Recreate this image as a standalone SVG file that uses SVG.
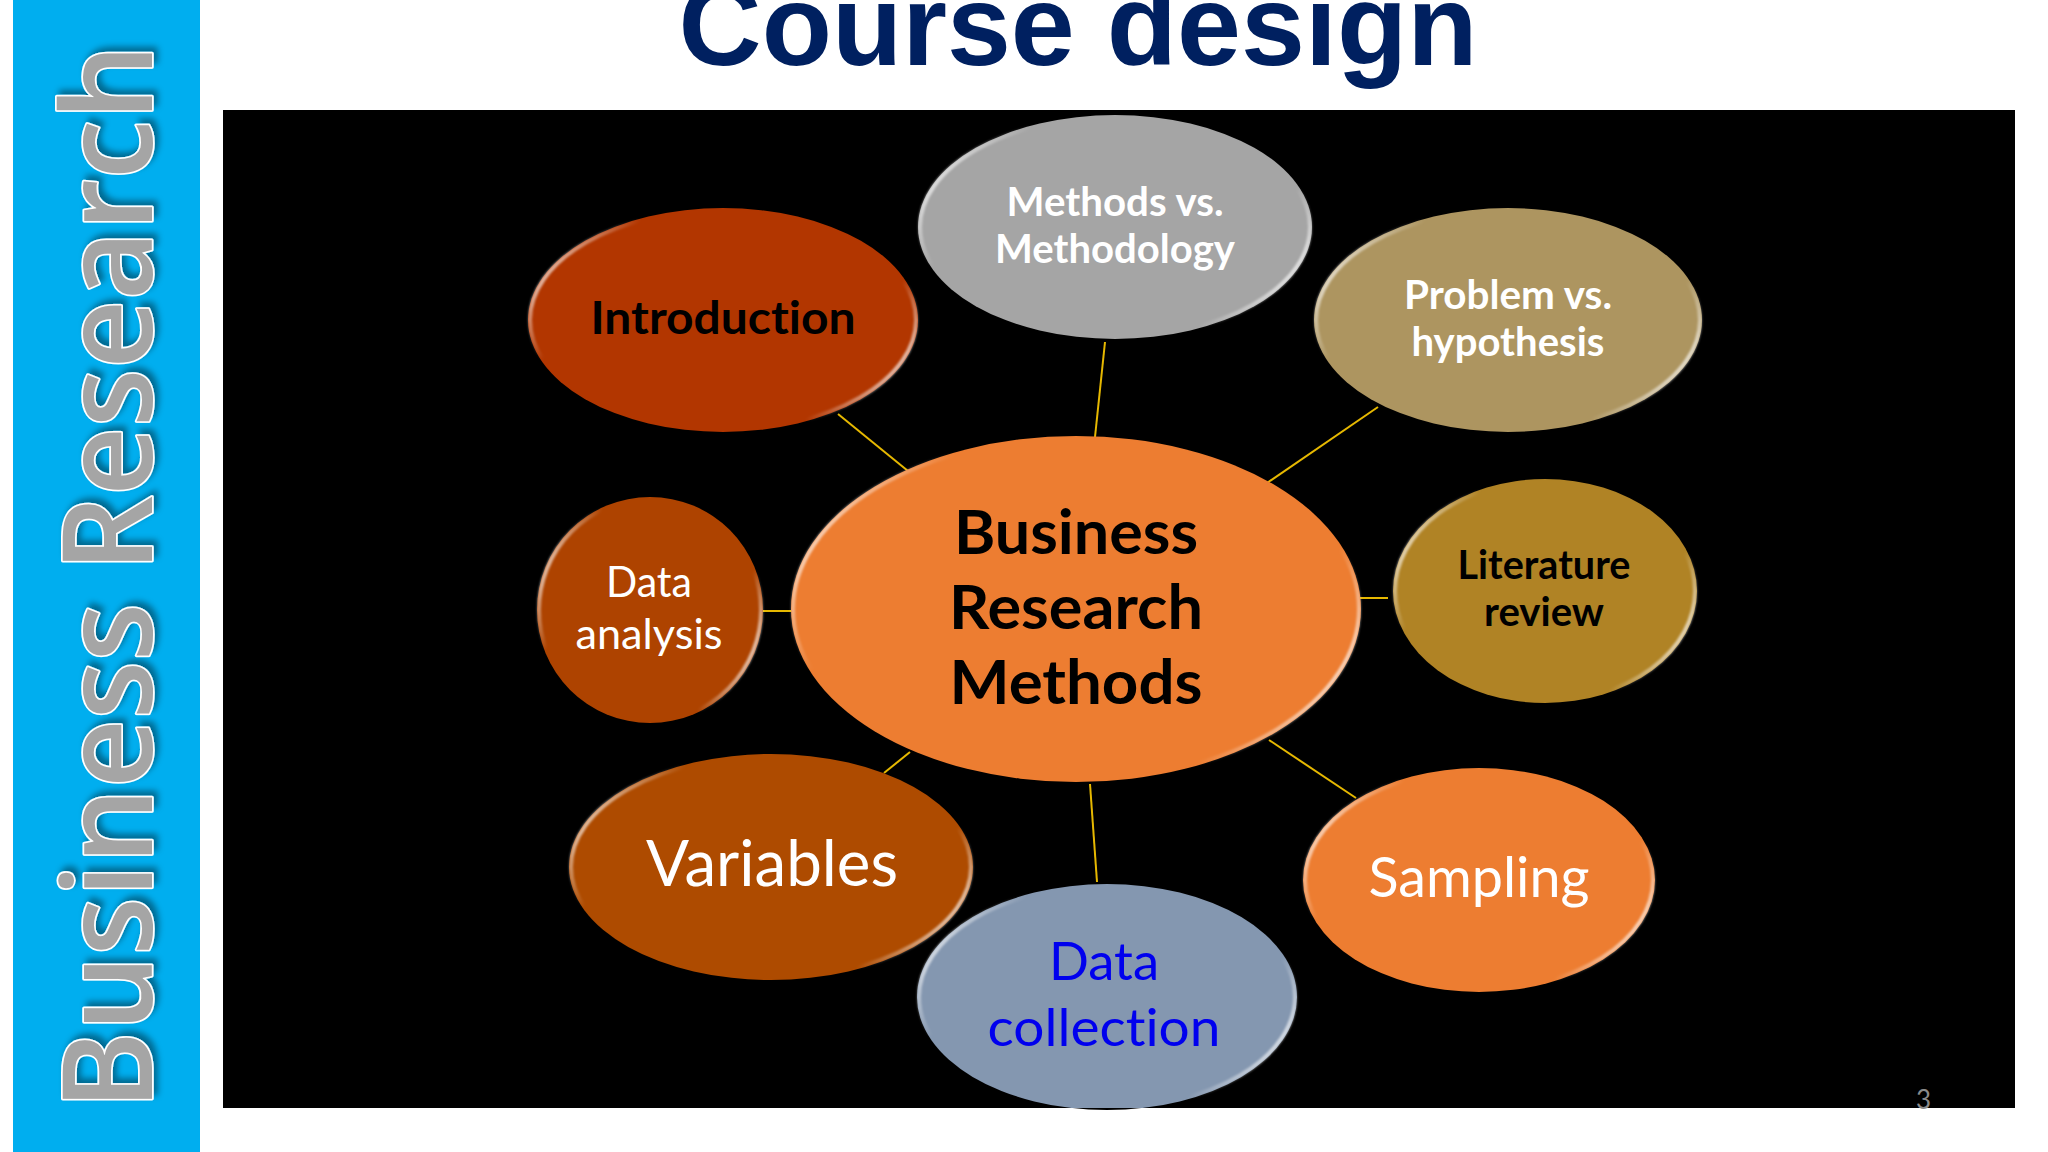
<svg xmlns="http://www.w3.org/2000/svg" width="2048" height="1152" viewBox="0 0 2048 1152">
<style>
.n{stroke:none}
.b{fill:none;stroke:url(#bevel);stroke-width:4;filter:url(#soft)}
.t{font-family:"Lato","Carlito","Noto Sans",sans-serif;text-anchor:middle;font-variant-ligatures:none}
.w{fill:#fff}.k{fill:#000}.bd{font-weight:700}
.c{stroke:#e6b800;stroke-width:2;fill:none}
</style>
<defs>
<linearGradient id="bevel" x1="0" y1="0.3" x2="1" y2="0.7">
<stop offset="0" stop-color="#fff" stop-opacity=".85"/>
<stop offset=".06" stop-color="#fff" stop-opacity=".45"/>
<stop offset=".16" stop-color="#fff" stop-opacity="0"/>
<stop offset=".84" stop-color="#fff" stop-opacity="0"/>
<stop offset=".94" stop-color="#fff" stop-opacity=".5"/>
<stop offset="1" stop-color="#fff" stop-opacity=".85"/>
</linearGradient>
<filter id="soft" x="-5%" y="-5%" width="110%" height="110%"><feGaussianBlur stdDeviation="0.9"/></filter>
<filter id="shadow" x="-5%" y="-5%" width="115%" height="115%"><feDropShadow dx="5" dy="4" stdDeviation="3" flood-color="#000" flood-opacity=".4"/></filter>
<clipPath id="panel-clip"><rect x="223" y="110" width="1792" height="998"/></clipPath>
</defs>
<rect width="2048" height="1152" fill="#fff"/>
<rect id="sidebar" x="13" y="0" width="187" height="1152" fill="#00aeef"/>
<text id="sidebar-title" transform="translate(152,1110) rotate(-90)" textLength="1066" lengthAdjust="spacingAndGlyphs" font-family="'Open Sans','DejaVu Sans',sans-serif" font-weight="600" font-size="125" fill="#a5a5a5" stroke="#fff" stroke-width="3.5" stroke-linejoin="round" paint-order="stroke" filter="url(#shadow)">Business Research</text>
<text id="title" x="1078" y="65" text-anchor="middle" font-family="'Liberation Sans',Arial,sans-serif" font-weight="700" font-size="115" fill="#002060">Course design</text>
<rect id="panel" x="223" y="110" width="1792" height="998" fill="#000"/>
<g id="connectors">
<line class="c" x1="838" y1="414" x2="908" y2="471"/>
<line class="c" x1="1105" y1="342" x2="1095" y2="437"/>
<line class="c" x1="1378" y1="407" x2="1267" y2="483"/>
<line class="c" x1="1358" y1="598" x2="1388" y2="598"/>
<line class="c" x1="762" y1="611" x2="792" y2="611"/>
<line class="c" x1="884" y1="773" x2="910" y2="752"/>
<line class="c" x1="1090" y1="784" x2="1097" y2="882"/>
<line class="c" x1="1269" y1="740" x2="1356" y2="798"/>
</g>
<g id="center">
<ellipse class="n" cx="1076" cy="609" rx="285" ry="173" fill="#ed7d31"/>
<ellipse class="b" cx="1076" cy="609" rx="283" ry="171"/>
<text class="t k bd" x="1076" y="554" font-size="62" textLength="244" lengthAdjust="spacingAndGlyphs">Business</text>
<text class="t k bd" x="1076" y="629" font-size="62" textLength="254" lengthAdjust="spacingAndGlyphs">Research</text>
<text class="t k bd" x="1076" y="704" font-size="62" textLength="253" lengthAdjust="spacingAndGlyphs">Methods</text>
</g>
<g id="introduction">
<ellipse class="n" cx="723" cy="320" rx="195" ry="112" fill="#b23600"/>
<ellipse class="b" cx="723" cy="320" rx="193" ry="110"/>
<text class="t k bd" x="723" y="334" font-size="46" textLength="265" lengthAdjust="spacingAndGlyphs">Introduction</text>
</g>
<g id="methods">
<ellipse class="n" cx="1115" cy="227" rx="197" ry="112" fill="#a5a5a5"/>
<ellipse class="b" cx="1115" cy="227" rx="195" ry="110"/>
<text class="t w bd" x="1115" y="216" font-size="40" textLength="217" lengthAdjust="spacingAndGlyphs">Methods vs.</text>
<text class="t w bd" x="1115" y="263" font-size="40" textLength="240" lengthAdjust="spacingAndGlyphs">Methodology</text>
</g>
<g id="problem">
<ellipse class="n" cx="1508" cy="320" rx="194" ry="112" fill="#ad9560"/>
<ellipse class="b" cx="1508" cy="320" rx="192" ry="110"/>
<text class="t w bd" x="1508" y="309" font-size="40" textLength="208" lengthAdjust="spacingAndGlyphs">Problem vs.</text>
<text class="t w bd" x="1508" y="356" font-size="40" textLength="193" lengthAdjust="spacingAndGlyphs">hypothesis</text>
</g>
<g id="literature">
<ellipse class="n" cx="1545" cy="591" rx="152" ry="112" fill="#b08325"/>
<ellipse class="b" cx="1545" cy="591" rx="150" ry="110"/>
<text class="t k bd" x="1544" y="579" font-size="40" textLength="173" lengthAdjust="spacingAndGlyphs">Literature</text>
<text class="t k bd" x="1544" y="626" font-size="40" textLength="120" lengthAdjust="spacingAndGlyphs">review</text>
</g>
<g id="analysis">
<ellipse class="n" cx="650" cy="610" rx="113" ry="113" fill="#ae4300"/>
<ellipse class="b" cx="650" cy="610" rx="111" ry="111"/>
<text class="t w" x="649" y="597" font-size="43" textLength="86" lengthAdjust="spacingAndGlyphs">Data</text>
<text class="t w" x="649" y="649" font-size="43" textLength="147" lengthAdjust="spacingAndGlyphs">analysis</text>
</g>
<g id="variables">
<ellipse class="n" cx="771" cy="867" rx="202" ry="113" fill="#ae4b00"/>
<ellipse class="b" cx="771" cy="867" rx="200" ry="111"/>
<text class="t w" x="772" y="886" font-size="63" textLength="252" lengthAdjust="spacingAndGlyphs">Variables</text>
</g>
<g id="collection">
<ellipse class="n" cx="1107" cy="997" rx="190" ry="113" fill="#000"/>
<g clip-path="url(#panel-clip)">
<ellipse class="n" cx="1107" cy="997" rx="190" ry="113" fill="#8497b0"/>
<ellipse class="b" cx="1107" cy="997" rx="188" ry="111"/>
</g>
<text class="t" x="1104" y="980" font-size="52" fill="#0000ee" textLength="110" lengthAdjust="spacingAndGlyphs">Data</text>
<text class="t" x="1104" y="1046" font-size="52" fill="#0000ee" textLength="233" lengthAdjust="spacingAndGlyphs">collection</text>
</g>
<g id="sampling">
<ellipse class="n" cx="1479" cy="880" rx="176" ry="112" fill="#ed7d31"/>
<ellipse class="b" cx="1479" cy="880" rx="174" ry="110"/>
<text class="t w" x="1479" y="897" font-size="56" textLength="221" lengthAdjust="spacingAndGlyphs">Sampling</text>
</g>
<text id="page-number" x="1931" y="1109" text-anchor="end" font-family="Lato,sans-serif" font-size="26" fill="#8a8a8a">3</text>
</svg>
